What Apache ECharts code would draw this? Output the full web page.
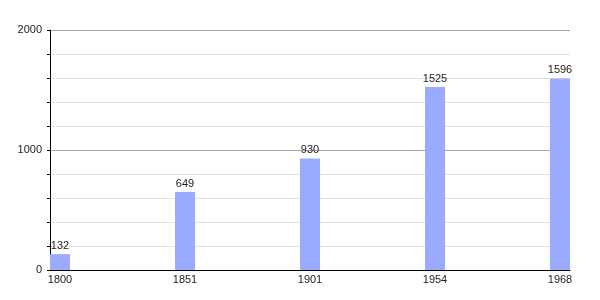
<!DOCTYPE html>
<html><head><meta charset="utf-8">
<script src="https://cdn.jsdelivr.net/npm/echarts@6/dist/echarts.min.js"></script>
<style>html,body{margin:0;padding:0;background:#fff}#c{width:600px;height:300px}</style>
</head><body><div id="c"></div>
<script>
const years = ['1800', '1851', '1901', '1954', '1968'];
const population = [132, 649, 930, 1525, 1596];
const yTickLabels = [0, 1000, 2000];

const OFF = 0.08; // bar centre offset from the slot start, in slot units
const chart = echarts.init(document.getElementById('c'), null, {renderer: 'canvas'});
const font = '"Liberation Sans", Arial, sans-serif';
chart.setOption({
  animation: false,
  grid: {left: 50, right: 30, top: 30, bottom: 30},
  xAxis: {
    type: 'value', min: 0, max: years.length - 1 + 2 * OFF,
    axisLine: {show: true, lineStyle: {color: '#000', width: 1}},
    axisTick: {show: false},
    splitLine: {show: false},
    axisLabel: {
      customValues: years.map((y, i) => i + OFF),
      formatter: v => years[Math.round(v - OFF)] || '',
      color: '#222', fontSize: 11, fontFamily: font, margin: 4
    }
  },
  yAxis: {
    type: 'value', min: 0, max: 2000, interval: 200,
    axisLine: {show: true, lineStyle: {color: '#000', width: 1}},
    axisTick: {show: true, length: 3, lineStyle: {color: '#000'}},
    splitLine: {show: true, lineStyle: {color: ['#a8a8a8', '#e2e2e2', '#e2e2e2', '#e2e2e2', '#e2e2e2'], width: 1}},
    axisLabel: {
      formatter: v => yTickLabels.includes(v) ? String(v) : '',
      color: '#222', fontSize: 11, fontFamily: font, margin: 8
    }
  },
  series: [{
    type: 'bar',
    barWidth: 20,
    data: population.map((v, i) => [i + OFF, v]),
    itemStyle: {color: '#99aaff'},
    label: {show: true, position: 'top', distance: 3, color: '#222', fontSize: 11, fontFamily: font,
      formatter: p => String(p.value[1])}
  }]
});
</script></body></html>
